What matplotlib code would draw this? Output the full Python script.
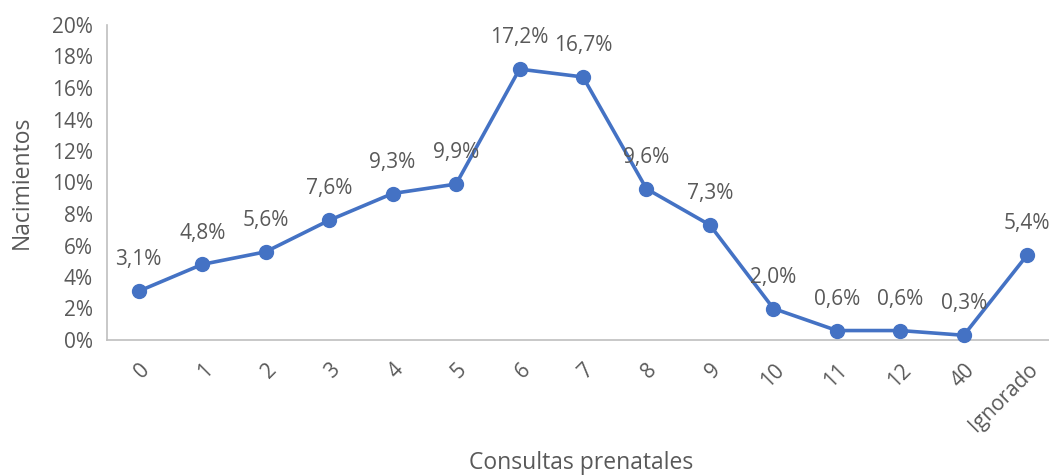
import matplotlib
matplotlib.use("Agg")
import matplotlib.pyplot as plt
from matplotlib.ticker import FuncFormatter

categories = ["0", "1", "2", "3", "4", "5", "6", "7", "8", "9", "10", "11", "12", "40", "Ignorado"]
values = [3.1, 4.8, 5.6, 7.6, 9.3, 9.9, 17.2, 16.7, 9.6, 7.3, 2.0, 0.6, 0.6, 0.3, 5.4]
yticks = [0, 2, 4, 6, 8, 10, 12, 14, 16, 18, 20]

plt.rcParams['font.family'] = ['Open Sans', 'DejaVu Sans']
txt = '#595959'

fig = plt.figure(figsize=(10.49, 4.75), dpi=100)
W, H = 1049, 475
left, right, top, bottom = 107, 1059, 25, 340
ax = fig.add_axes([left / W, 1 - bottom / H, (right - left) / W, (bottom - top) / H])

x = list(range(len(categories)))
ax.plot(x, values, color='#4472C4', linewidth=2.6, marker='o', markersize=10,
        markerfacecolor='#4472C4', markeredgecolor='#4472C4', clip_on=False, zorder=3)

for xi, v in zip(x, values):
    ax.annotate(f"{v:.1f}%".replace('.', ','), (xi, v), xytext=(0, 15), textcoords='offset points',
                ha='center', va='bottom', fontsize=15, color=txt)

ax.set_xlim(-0.5, len(categories) - 0.5)
ax.set_ylim(0, 20)
ax.set_yticks(yticks)
ax.yaxis.set_major_formatter(FuncFormatter(lambda v, p: f"{v:.0f}%"))
ax.set_xticks(x)
ax.set_xticklabels(categories, rotation=45, ha='right', rotation_mode='anchor')

ax.tick_params(axis='both', length=0, labelsize=15, colors=txt)
ax.tick_params(axis='x', pad=14)
ax.tick_params(axis='y', pad=10)
for s in ['top', 'right']:
    ax.spines[s].set_visible(False)
for s in ['left', 'bottom']:
    ax.spines[s].set_color('#BFBFBF')
    ax.spines[s].set_linewidth(1.2)

fig.text(581 / W, 1 - 463 / H, "Consultas prenatales", ha='center', va='center', fontsize=16.5, color=txt)
fig.text(22 / W, 1 - 182 / H, "Nacimientos", ha='center', va='center', rotation=90, fontsize=16.5, color=txt)

fig.savefig("out.png", dpi=100)
